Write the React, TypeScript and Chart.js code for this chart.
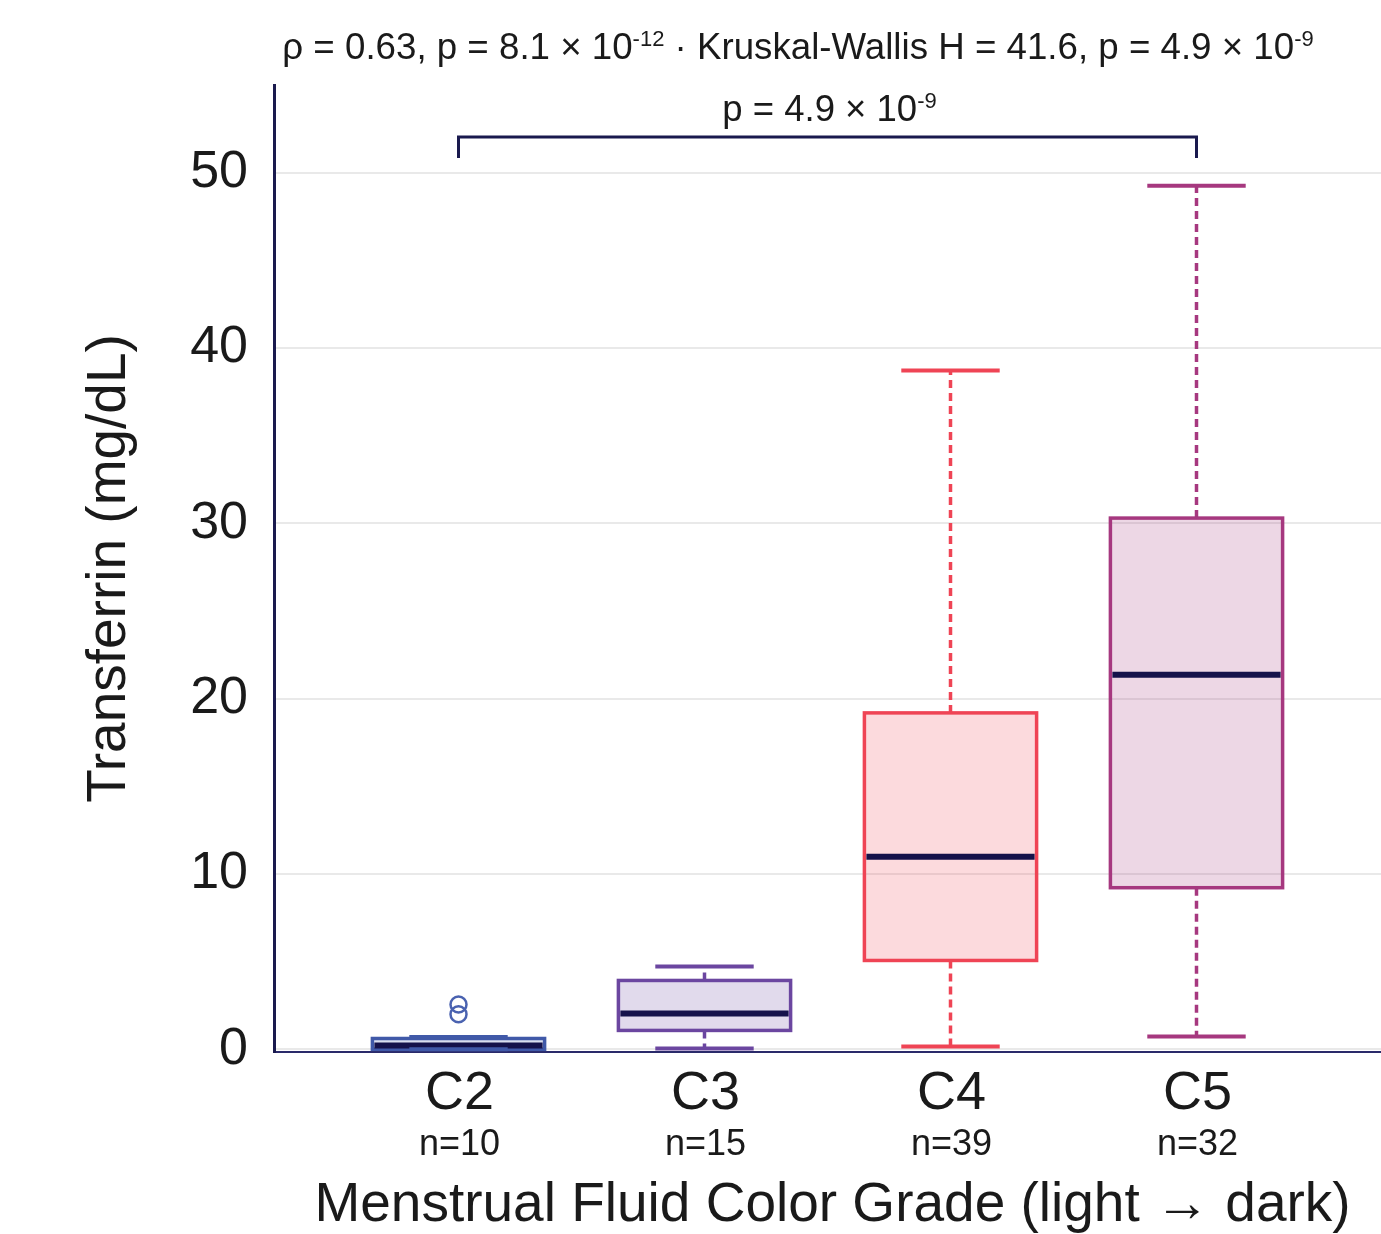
import React, { useEffect, useRef } from "react";
import { Chart, registerables } from "chart.js";

Chart.register(...registerables);

const categories = ["C2", "C3", "C4", "C5"];
const counts = ["n=10", "n=15", "n=39", "n=32"];
const whiskerLow = [0.0, 0.05, 0.17, 0.74];
const q1 = [0.0, 1.08, 5.07, 9.22];
const median = [0.22, 2.05, 10.99, 21.36];
const q3 = [0.62, 3.93, 19.19, 30.3];
const whiskerHigh = [0.7, 4.73, 38.72, 49.26];
const outliersC2 = [2.0, 2.56];
const borderColors = ["#4059a8", "#6b46a0", "#ef4455", "#a6387f"];
const fillColors = ["rgba(64,89,168,0.2)", "rgba(107,70,160,0.2)", "rgba(239,68,85,0.2)", "rgba(166,56,127,0.2)"];
const yTicks = [0, 10, 20, 30, 40, 50];

const FONT = "'Liberation Sans', Arial, Helvetica, sans-serif";
const NAVY = "#1a1a4e";

const boxPlugin = {
  id: "boxes",
  beforeDatasetsDraw(chart: any) {
    const { ctx, scales } = chart;
    const xs = scales.x;
    const ys = scales.y;
    const half = 0.35;
    const capHalf = 0.2;
    for (let i = 0; i < categories.length; i++) {
      const xc = xs.getPixelForValue(i);
      const xl = xs.getPixelForValue(i - half);
      const xr = xs.getPixelForValue(i + half);
      const cl = xs.getPixelForValue(i - capHalf);
      const cr = xs.getPixelForValue(i + capHalf);
      const yq1 = ys.getPixelForValue(q1[i]);
      const yq3 = ys.getPixelForValue(q3[i]);
      const ymed = ys.getPixelForValue(median[i]);
      const ylo = ys.getPixelForValue(whiskerLow[i]);
      const yhi = ys.getPixelForValue(whiskerHigh[i]);
      ctx.save();
      ctx.strokeStyle = borderColors[i];
      ctx.lineWidth = 3.5;
      ctx.setLineDash([8, 5]);
      ctx.beginPath();
      ctx.moveTo(xc, yq3);
      ctx.lineTo(xc, yhi);
      ctx.moveTo(xc, yq1);
      ctx.lineTo(xc, ylo);
      ctx.stroke();
      ctx.setLineDash([]);
      ctx.fillStyle = fillColors[i];
      ctx.fillRect(xl, yq3, xr - xl, yq1 - yq3);
      ctx.lineWidth = 3.5;
      ctx.strokeRect(xl, yq3, xr - xl, yq1 - yq3);
      ctx.strokeStyle = "#15124a";
      ctx.lineWidth = 6;
      ctx.beginPath();
      ctx.moveTo(xl + 2, ymed);
      ctx.lineTo(xr - 2, ymed);
      ctx.stroke();
      ctx.strokeStyle = borderColors[i];
      ctx.lineWidth = 4;
      ctx.beginPath();
      ctx.moveTo(cl, yhi);
      ctx.lineTo(cr, yhi);
      ctx.moveTo(cl, ylo);
      ctx.lineTo(cr, ylo);
      ctx.stroke();
      ctx.restore();
    }
  },
  afterDraw(chart: any) {
    const { ctx, scales, chartArea } = chart;
    const xs = scales.x;
    ctx.save();
    ctx.fillStyle = "#1a1a1a";
    ctx.textAlign = "center";
    ctx.textBaseline = "alphabetic";
    for (let i = 0; i < categories.length; i++) {
      const x = xs.getPixelForValue(i);
      ctx.font = `54px ${FONT}`;
      ctx.fillText(categories[i], x + 1, 1109);
      ctx.font = `36px ${FONT}`;
      ctx.fillText(counts[i], x + 1, 1155);
    }
    ctx.font = `55px ${FONT}`;
    ctx.fillText("Menstrual Fluid Color Grade (light \u2192 dark)", (chartArea.left + chartArea.right) / 2 + 5, 1221);
    ctx.save();
    ctx.translate(125, (chartArea.top + chartArea.bottom) / 2);
    ctx.rotate(-Math.PI / 2);
    ctx.font = `55px ${FONT}`;
    ctx.fillText("Transferrin (mg/dL)", 0, 0);
    ctx.restore();

    const drawRich = (parts: [string, boolean][], cx: number, baseline: number, size: number) => {
      const supSize = Math.round(size * 0.6);
      let total = 0;
      for (const [t, sup] of parts) {
        ctx.font = `${sup ? supSize : size}px ${FONT}`;
        total += ctx.measureText(t).width;
      }
      let x = cx - total / 2;
      ctx.textAlign = "left";
      for (const [t, sup] of parts) {
        ctx.font = `${sup ? supSize : size}px ${FONT}`;
        ctx.fillText(t, x, sup ? baseline - size * 0.36 : baseline);
        x += ctx.measureText(t).width;
      }
      ctx.textAlign = "center";
    };

    drawRich(
      [
        ["\u03c1 = 0.63, p = 8.1 \u00d7 10", false],
        ["-12", true],
        [" \u00b7 Kruskal-Wallis H = 41.6, p = 4.9 \u00d7 10", false],
        ["-9", true],
      ],
      798,
      59,
      36.7
    );

    const bx1 = xs.getPixelForValue(0);
    const bx2 = xs.getPixelForValue(3);
    ctx.strokeStyle = NAVY;
    ctx.lineWidth = 3;
    ctx.beginPath();
    ctx.moveTo(bx1, 158);
    ctx.lineTo(bx1, 137);
    ctx.lineTo(bx2, 137);
    ctx.lineTo(bx2, 158);
    ctx.stroke();
    drawRich(
      [
        ["p = 4.9 \u00d7 10", false],
        ["-9", true],
      ],
      (bx1 + bx2) / 2 + 2,
      121,
      36.5
    );
    ctx.restore();
  },
};

export default function App() {
  const ref = useRef<HTMLCanvasElement | null>(null);
  useEffect(() => {
    document.body.style.margin = "0";
    const canvas = ref.current;
    if (!canvas) return;
    const chart = new Chart(canvas, {
      type: "scatter",
      data: {
        datasets: [
          {
            label: "outliers",
            data: outliersC2.map((v) => ({ x: 0, y: v })),
            pointStyle: "circle",
            pointRadius: 8,
            borderColor: "#4a62b0",
            backgroundColor: "rgba(255,255,255,0)",
            borderWidth: 2.5,
          },
        ],
      },
      options: {
        animation: false,
        responsive: false,
        maintainAspectRatio: false,
        layout: { autoPadding: false, padding: { top: 85, right: 0, bottom: 0, left: 0 } },
        plugins: {
          legend: { display: false },
          tooltip: { enabled: false },
          title: { display: false },
        },
        scales: {
          x: {
            type: "linear",
            min: -0.75,
            max: 3.75,
            ticks: { display: false },
            grid: { display: false, drawTicks: false },
            border: { display: true, color: "#2a2a6a", width: 2 },
            afterFit: (s: any) => {
              s.height = 182;
            },
          },
          y: {
            type: "linear",
            min: -0.15,
            max: 55,
            afterBuildTicks: (s: any) => {
              s.ticks = yTicks.map((v) => ({ value: v }));
            },
            ticks: {
              font: { size: 52, family: FONT },
              color: "#1a1a1a",
              padding: 26,
              callback: (v: any) => String(v),
            },
            grid: { color: "#e9e9e9", lineWidth: 2, drawTicks: false },
            border: { display: true, color: NAVY, width: 3 },
            afterFit: (s: any) => {
              s.width = 274;
            },
          },
        },
      },
      plugins: [boxPlugin],
    });
    return () => chart.destroy();
  }, []);
  return (
    <div style={{ width: 1381, height: 1234 }}>
      <canvas ref={ref} width={1381} height={1234} style={{ display: "block" }} />
    </div>
  );
}
